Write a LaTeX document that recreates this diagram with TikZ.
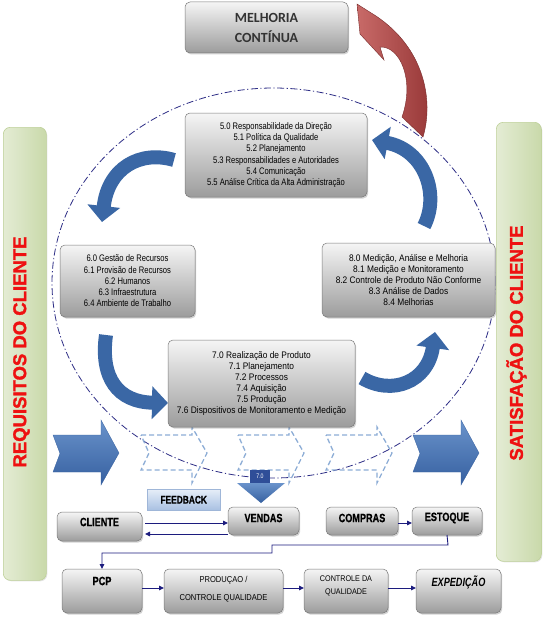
\documentclass[tikz,border=0pt]{standalone}
\usepackage{fontspec}
\setmainfont{Liberation Sans}
\newfontfamily\condA[FakeStretch=0.8]{Liberation Sans}
\newfontfamily\condB[FakeStretch=0.88]{Liberation Sans}
\newfontfamily\condC[FakeStretch=0.76,BoldFeatures={FakeBold=0.6}]{Liberation Sans}
\newfontfamily\heavyfont[BoldFeatures={FakeBold=1.6}]{Liberation Sans}
\newfontfamily\calib{Carlito}
\usetikzlibrary{arrows.meta,shadows}
\definecolor{boxT}{HTML}{F5F5F5}
\definecolor{boxB}{HTML}{9C9C9C}
\definecolor{boxD}{HTML}{7A7A7A}
\definecolor{sideL}{HTML}{E4ECD4}
\definecolor{sideR}{HTML}{C9D9AA}
\definecolor{sideD}{HTML}{BFD19A}
\definecolor{cblue}{HTML}{3A67A5}
\definecolor{bblueT}{HTML}{6A93CB}
\definecolor{bblueB}{HTML}{3660A0}
\definecolor{dashc}{HTML}{8DADD6}
\definecolor{navyl}{HTML}{1C1C7E}
\definecolor{ellc}{HTML}{2E2E86}
\definecolor{redL}{HTML}{C86A68}
\definecolor{redD}{HTML}{963636}
\definecolor{sidered}{HTML}{EE1111}
\definecolor{fbT}{HTML}{E6EEF8}
\definecolor{fbB}{HTML}{A8C0E2}
\definecolor{fbD}{HTML}{9FB6D8}
\definecolor{shaftc}{HTML}{2F4E98}
\begin{document}
\begin{tikzpicture}[x=1pt,y=-1pt,
  box/.style={draw=boxD, line width=0.5pt, rounded corners=5pt, top color=boxT, bottom color=boxB,
    anchor=north west, inner sep=0pt, outer sep=0pt,
    drop shadow={shadow xshift=1.2pt, shadow yshift=-1.5pt, opacity=0.35}},
  sidebar/.style={draw=sideD, line width=0.6pt, rounded corners=7pt, left color=sideL, right color=sideR,
    anchor=north west, inner sep=0pt, drop shadow={shadow xshift=1pt, shadow yshift=-1pt, opacity=0.2}},
  sidetxt/.style={text=sidered, font=\heavyfont\bfseries\fontsize{18.5}{20}\selectfont},
  txtA/.style={font=\condA\fontsize{9.5}{11.3}\selectfont, align=center},
  txtB/.style={font=\condB\fontsize{9.5}{11}\selectfont, align=center},
  lblB/.style={font=\condC\bfseries\fontsize{12}{13}\selectfont},
  lblS/.style={font=\condB\fontsize{8.6}{18}\selectfont, align=center},
  fbbox/.style={draw=fbD, line width=0.5pt, top color=fbT, bottom color=fbB, anchor=north west,
    inner sep=0pt, drop shadow={shadow xshift=1pt, shadow yshift=-1pt, opacity=0.25}},
  chev/.style={draw=dashc, line width=1.3pt, dash pattern=on 5pt off 3pt},
  bigarr/.style={top color=bblueT, bottom color=bblueB, draw=bblueB, line width=0.3pt},
  curv/.style={draw=cblue, line width=14pt, -{Triangle[length=16pt,width=32pt]}},
  flow/.style={draw=navyl, line width=0.9pt, -{Triangle[length=5pt,width=4.5pt]}}
]
\useasboundingbox (0,0) rectangle (543,618);
\fill[white] (0,0) rectangle (543,618);

% side bars
\node[sidebar, minimum width=43pt, minimum height=453pt] (lbar) at (3,127) {};
\node[sidetxt, rotate=90] (ltxt) at (21.5,352) {REQUISITOS DO CLIENTE};
\node[sidebar, minimum width=45pt, minimum height=439pt] (rbar) at (496,122) {};
\node[sidetxt, rotate=90] (rtxt) at (516.5,343) {SATISFAÇÃO DO CLIENTE};

% dash-dot ellipse
\draw[ellc, line width=0.8pt, dash pattern=on 7pt off 2.5pt on 1.2pt off 2.5pt]
  (273.5,283) ellipse [x radius=221.5pt, y radius=195pt];

% dashed chevrons
\foreach \s in {0,97,185}
  \draw[chev, shift={(\s,0)}] (141,435) -- (192,435) -- (192,427) -- (207,453) -- (192,483)
     -- (192,470) -- (141,470) -- (149,453) -- cycle;

% big blue arrows
\path[bigarr] (53,435) -- (101,435) -- (101,420) -- (119,453) -- (101,485) -- (101,472) -- (53,472) -- (60,453.5) -- cycle;
\path[bigarr, shift={(360,0)}] (53,435) -- (101,435) -- (101,420) -- (119,453) -- (101,485) -- (101,472) -- (53,472) -- (60,453.5) -- cycle;

% down arrow 7.0
\path[top color=bblueT, bottom color=bblueB] (237,483) -- (285,483) -- (261,503) -- cycle;
\node[fill=shaftc, minimum width=20pt, minimum height=13pt, inner sep=0pt, text=white,
  font=\condA\fontsize{6.5}{7}\selectfont] (d70) at (260,476.5) {7.0};

% red arrow
\path[left color=redL, right color=redD, draw=redD!80!black, line width=0.4pt]
  (357,4) -- (360,34) -- (384,60) -- (380,47) .. controls (400,46) and (415,80) .. (402,117)
  -- (423,137) .. controls (434,100) and (424,48) .. (376,16) -- cycle;

% curved blue arrows
\draw[curv] (424,226) .. controls (440,195) and (425,150) .. (372,140);
\draw[curv] (174,160) .. controls (140,150) and (108,168) .. (102,222);
\draw[curv] (106,335) .. controls (100,378) and (118,402) .. (168,403);
\draw[curv] (362,378) .. controls (392,396) and (428,382) .. (435,332);

% top box
\node[box, minimum width=163pt, minimum height=51pt, font=\calib\bfseries\fontsize{14}{20}\selectfont,
  text=black!80, align=center] (mc) at (185,2) {MELHORIA\\CONTÍNUA};

% clause boxes
\node[box, txtA, minimum width=182pt, minimum height=84pt] (r5) at (185,113)
  {5.0 Responsabilidade da Direção\\5.1 Política da Qualidade\\5.2 Planejamento\\5.3 Responsabilidades e Autoridades\\5.4 Comunicação\\5.5 Análise Crítica da Alta Administração};
\node[box, txtA, minimum width=135pt, minimum height=72pt] (r6) at (60,245)
  {6.0 Gestão de Recursos\\6.1 Provisão de Recursos\\6.2 Humanos\\6.3 Infraestrutura\\6.4 Ambiente de Trabalho};
\node[box, txtB, minimum width=173pt, minimum height=74pt] (r8) at (322,243)
  {8.0 Medição, Análise e Melhoria\\8.1 Medição e Monitoramento\\8.2 Controle de Produto Não Conforme\\8.3 Análise de Dados\\8.4 Melhorias};
\node[box, txtB, minimum width=187pt, minimum height=87pt] (r7) at (168,340)
  {7.0 Realização de Produto\\7.1 Planejamento\\7.2 Processos\\7.4 Aquisição\\7.5 Produção\\7.6 Dispositivos de Monitoramento e Medição};

% feedback
\node[fbbox, minimum width=73pt, minimum height=21pt, font=\condC\bfseries\fontsize{11}{12}\selectfont] (fb) at (147,489) {FEEDBACK};

% process boxes
\node[box, minimum width=85pt, minimum height=29pt] (cliente) at (57,512) {};
\node[lblB] (clienteT) at ([yshift=-10pt]cliente.north) {CLIENTE};
\node[box, minimum width=71pt, minimum height=28pt] (vendas) at (228,507) {};
\node[lblB] (vendasT) at ([yshift=-11pt]vendas.north) {VENDAS};
\node[box, minimum width=72pt, minimum height=28pt] (compras) at (326,507) {};
\node[lblB] (comprasT) at ([yshift=-11pt]compras.north) {COMPRAS};
\node[box, minimum width=70pt, minimum height=28pt] (estoque) at (412,507) {};
\node[lblB] (estoqueT) at ([yshift=-11pt]estoque.north) {ESTOQUE};

\node[box, minimum width=80pt, minimum height=44pt] (pcp) at (62,569) {};
\node[lblB] (pcpT) at ([yshift=-12pt]pcp.north) {PCP};
\node[box, minimum width=119pt, minimum height=44pt] (prod) at (164,569) {};
\node[lblS] (prodT) at ([yshift=-20pt]prod.north) {PRODUÇAO /\\CONTROLE QUALIDADE};
\node[box, minimum width=84pt, minimum height=44pt] (cq) at (304,569) {};
\node[lblS, font=\condB\fontsize{8.2}{13}\selectfont] (cqT) at ([yshift=-17pt]cq.north) {CONTROLE DA\\QUALIDADE};
\node[box, minimum width=85pt, minimum height=44pt] (exped) at (416,569) {};
\node[lblB, font=\condC\bfseries\itshape\fontsize{12}{13}\selectfont] (expedT) at ([yshift=-13pt]exped.north) {EXPEDIÇÃO};

% connectors
\draw[flow, shorten <=3pt] ([yshift=-11pt]cliente.north east) -- ([yshift=-16pt]vendas.north west);
\draw[flow, shorten >=3pt] ([yshift=-27pt]vendas.north west) -- ([yshift=-22pt]cliente.north east);
\draw[flow] ([yshift=-16pt]compras.north east) -- ([yshift=-16pt]estoque.north west);
\coordinate (j1) at (448,545);
\coordinate (j2) at (272,545);
\coordinate (j3) at (272,553);
\draw[flow] (estoque.south) -- (j1) -- (j2) -- (j3) -- (pcp.north |- j3) -- (pcp.north);
\draw[flow] ([yshift=-19pt]pcp.north east) -- ([yshift=-19pt]prod.north west);
\draw[flow] ([yshift=-19pt]prod.north east) -- ([yshift=-19pt]cq.north west);
\draw[flow] ([yshift=-19pt]cq.north east) -- ([yshift=-19pt]exped.north west);
\end{tikzpicture}
\end{document}
